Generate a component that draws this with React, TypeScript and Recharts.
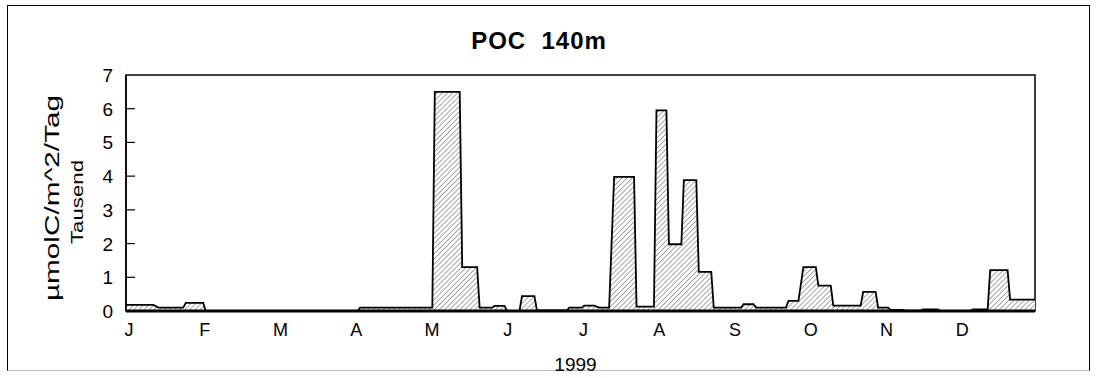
import React from 'react';
import { ComposedChart, Area, XAxis, YAxis, ReferenceArea } from 'recharts';

// sampling periods (day of year 1999) and POC flux in thousands of µmol C/m^2/day
const periodStart = [0, 13, 24, 32, 94, 124, 135, 142, 148, 153, 159, 165, 178, 184, 190, 196, 205, 213, 218, 224, 230, 236, 248, 253, 266, 272, 278, 284, 296, 302, 307, 313, 320, 327, 340, 347, 355];
const periodEnd = [11, 23, 31, 93, 123, 134, 141, 147, 152, 158, 164, 177, 183, 188, 194, 204, 212, 217, 223, 229, 235, 247, 252, 265, 270, 277, 283, 295, 301, 306, 312, 319, 326, 339, 346, 354, 365];
const pocFlux = [0.18, 0.1, 0.24, 0, 0.1, 6.5, 1.3, 0.1, 0.15, 0, 0.44, 0.02, 0.1, 0.16, 0.1, 3.98, 0.13, 5.95, 1.98, 3.88, 1.16, 0.1, 0.2, 0.1, 0.3, 1.3, 0.75, 0.16, 0.57, 0.1, 0.03, 0.01, 0.05, 0, 0.05, 1.21, 0.34];

const monthLabels = ['J', 'F', 'M', 'A', 'M', 'J', 'J', 'A', 'S', 'O', 'N', 'D'];
const yTicks = [0, 1, 2, 3, 4, 5, 6, 7];

const monthTicks = monthLabels.map((_, i) => (i * 365) / 12);

// each period holds its value from start to end day
const chartData = periodStart.flatMap((s, i) => [
  { day: s, poc: pocFlux[i] },
  { day: periodEnd[i], poc: pocFlux[i] },
]);

const FONT = '"Liberation Sans", Arial, sans-serif';

const YTick = (props: any) => {
  const { x, y, payload } = props;
  return (
    <g>
      {payload.value > 0 && payload.value < 7 && (
        <line x1={x + 13} x2={x + 22} y1={y} y2={y} stroke="#000" strokeWidth={1.2} />
      )}
      <text x={x} y={y} dy={7} textAnchor="end" fontSize={19} fill="#000" fontFamily={FONT}>
        {payload.value}
      </text>
    </g>
  );
};

const XTick = (props: any) => {
  const { x, y, payload, index } = props;
  return (
    <text x={x + 3} y={y} dy={15} textAnchor="middle" fontSize={18} fill="#000" fontFamily={FONT}>
      {monthLabels[index] ?? ''}
    </text>
  );
};

const YLabel = () => {
  const cy = 198;
  const cy2 = 202;
  return (
    <g fontFamily={FONT} fill="#000">
      <text
        x={52}
        y={cy}
        transform={`rotate(-90 52 ${cy})`}
        textAnchor="middle"
        dy={7}
        fontSize={21}
        textLength={206}
        lengthAdjust="spacingAndGlyphs"
      >
        µmolC/m^2/Tag
      </text>
      <text
        x={77}
        y={cy2}
        transform={`rotate(-90 77 ${cy2})`}
        textAnchor="middle"
        dy={6}
        fontSize={17}
        textLength={84}
        lengthAdjust="spacingAndGlyphs"
      >
        Tausend
      </text>
    </g>
  );
};

const XLabel = (props: any) => {
  const vb = props.viewBox || { x: 126, y: 310, width: 909, height: 30 };
  return (
    <text x={vb.x + vb.width / 2 - 5} y={vb.y + 60} textAnchor="middle" fontSize={19} fill="#000" fontFamily={FONT}>
      1999
    </text>
  );
};

export default function App() {
  return (
    <div style={{ position: 'absolute', left: 0, top: 0, width: 1101, height: 378, background: '#fff' }}>
      <div
        style={{
          position: 'absolute',
          left: 7,
          top: 5,
          width: 1081,
          height: 364,
          borderLeft: '1px solid #000',
          borderTop: '1px solid #000',
          borderRight: '1px solid #000',
          borderBottom: '1px solid #bbb',
        }}
      />
      <div
        style={{
          position: 'absolute',
          left: 0,
          top: 27,
          width: 1078,
          textAlign: 'center',
          fontFamily: FONT,
          fontWeight: 'bold',
          fontSize: 24,
          letterSpacing: 1,
          whiteSpace: 'pre',
        }}
      >
        POC  140m
      </div>
      <div style={{ position: 'absolute', left: 0, top: 0 }}>
        <ComposedChart width={1101} height={378} data={chartData} margin={{ top: 75, right: 66, left: 0, bottom: 37 }}>
          <defs>
            <pattern id="hatch" patternUnits="userSpaceOnUse" width="3.6" height="3.6" patternTransform="rotate(45)">
              <rect width="3.6" height="3.6" fill="#fff" />
              <line x1="0" y1="0" x2="0" y2="3.6" stroke="#222" strokeWidth="0.8" />
            </pattern>
          </defs>
          <ReferenceArea x1={0} x2={365} y1={0} y2={7} fill="none" stroke="#000" strokeWidth={1.5} ifOverflow="visible" />
          <XAxis
            type="number"
            dataKey="day"
            domain={[0, 365]}
            ticks={monthTicks}
            interval={0}
            height={30}
            tickSize={0}
            tickMargin={10}
            tick={<XTick />}
            axisLine={{ stroke: '#000', strokeWidth: 3 }}
            label={<XLabel />}
          />
          <YAxis
            type="number"
            domain={[0, 7]}
            ticks={yTicks}
            interval={0}
            width={126}
            tickSize={0}
            tickMargin={13}
            tick={<YTick />}
            axisLine={{ stroke: '#000', strokeWidth: 1.5 }}
            label={<YLabel />}
          />
          <Area
            type="linear"
            dataKey="poc"
            stroke="#000"
            strokeWidth={1.8}
            fill="url(#hatch)"
            fillOpacity={1}
            dot={false}
            activeDot={false}
            isAnimationActive={false}
          />
        </ComposedChart>
      </div>
    </div>
  );
}
